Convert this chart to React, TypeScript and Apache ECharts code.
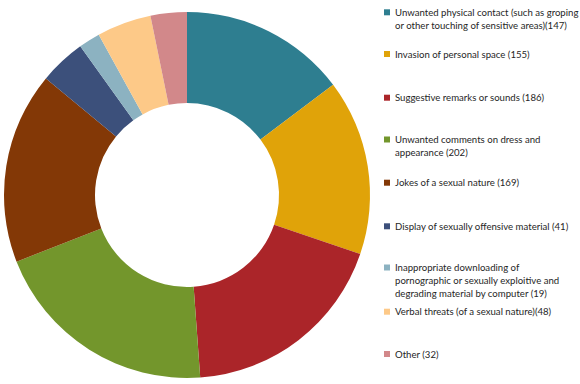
import React, { useEffect, useRef } from "react";
import * as echarts from "echarts";

const categories: string[] = [
  "Unwanted physical contact (such as groping or other touching of sensitive areas)(147)",
  "Invasion of personal space (155)",
  "Suggestive remarks or sounds (186)",
  "Unwanted comments on dress and appearance (202)",
  "Jokes of a sexual nature (169)",
  "Display of sexually offensive material (41)",
  "Inappropriate downloading of pornographic or sexually exploitive and degrading material by computer (19)",
  "Verbal threats (of a sexual nature)(48)",
  "Other (32)",
];

const legendLines: string[][] = [
  ["Unwanted physical contact (such as groping", "or other touching of sensitive areas)(147)"],
  ["Invasion of personal space (155)"],
  ["Suggestive remarks or sounds (186)"],
  ["Unwanted comments on dress and", "appearance (202)"],
  ["Jokes of a sexual nature (169)"],
  ["Display of sexually offensive material (41)"],
  ["Inappropriate downloading of", "pornographic or sexually exploitive and", "degrading material by computer (19)"],
  ["Verbal threats (of a sexual nature)(48)"],
  ["Other (32)"],
];

const values: number[] = [147, 155, 186, 202, 169, 41, 19, 48, 32];

const colors: string[] = [
  "#2E7E90",
  "#E0A309",
  "#AB2529",
  "#73962C",
  "#833806",
  "#3C507B",
  "#8CB2C1",
  "#FDC988",
  "#D2888A",
];

// y of the first text line of each legend entry
const legendFirstLineY: number[] = [12.3, 54, 97.7, 139.5, 182.7, 226.3, 267.5, 311.7, 354];

export default function App() {
  const ref = useRef<HTMLDivElement>(null);
  useEffect(() => {
    if (!ref.current) return;
    const chart = echarts.init(ref.current, null, { renderer: "svg" });
    const lh = 13;
    const legends = categories.map((name, i) => {
      const n = legendLines[i].length;
      const blockH = (2 * n - 1) * lh;
      return {
        show: true,
        data: [name],
        left: 384,
        top: legendFirstLineY[i] - blockH / 2,
        orient: "vertical",
        padding: 0,
        icon: "rect",
        itemWidth: 6,
        itemHeight: 6,
        selectedMode: false,
        formatter: (nm: string) => {
          const idx = categories.indexOf(nm);
          const lines = legendLines[idx];
          const pre = new Array(lines.length - 1).fill("").join("\n");
          return (lines.length > 1 ? pre + "\n" : "") + lines.join("\n");
        },
        textStyle: {
          fontFamily: "Lato",
          fontSize: 9.6,
          lineHeight: lh,
          color: "#262626",
        },
      };
    });
    chart.setOption({
      animation: false,
      color: colors,
      legend: legends,
      series: [
        {
          type: "pie",
          center: [187, 195],
          radius: [92, 183],
          startAngle: 90,
          clockwise: true,
          label: { show: false },
          labelLine: { show: false },
          itemStyle: { borderWidth: 0 },
          emphasis: { disabled: true },
          data: categories.map((name, i) => ({ name, value: values[i] })),
        },
      ],
    });
    return () => chart.dispose();
  }, []);
  return (
    <div
      ref={ref}
      style={{ position: "absolute", left: 0, top: 0, width: 580, height: 384, background: "#fff" }}
    />
  );
}
